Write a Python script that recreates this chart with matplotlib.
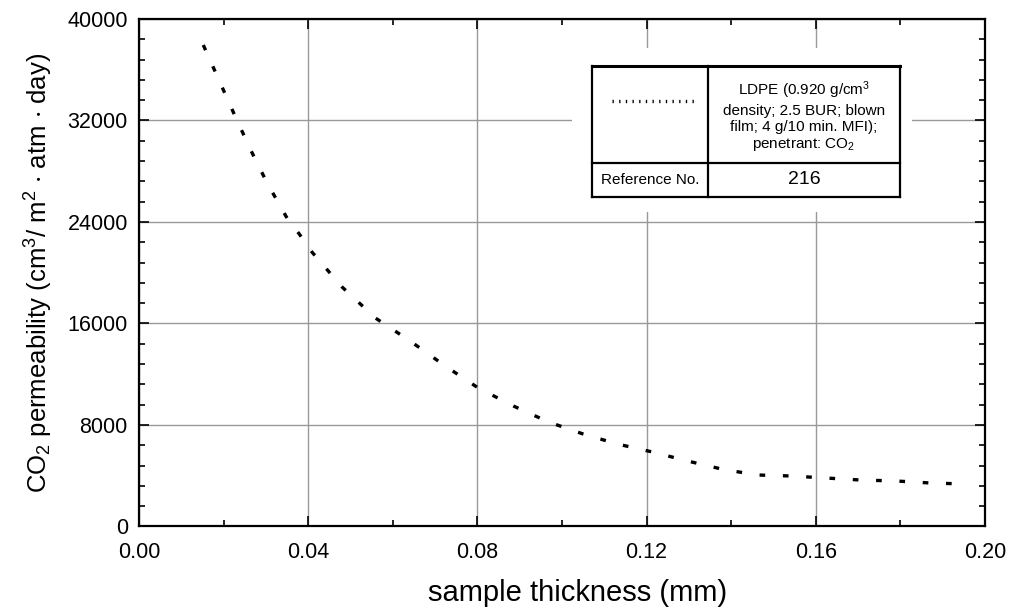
import matplotlib
matplotlib.use("Agg")
import matplotlib.pyplot as plt
from matplotlib.patches import Rectangle
from matplotlib.lines import Line2D
from matplotlib.ticker import MultipleLocator

thickness_mm = [0.0152, 0.0189, 0.0225, 0.0263, 0.0303, 0.0350, 0.0379, 0.0409,
                0.0480, 0.0559, 0.0641, 0.0724, 0.0802, 0.0885, 0.0968, 0.1050,
                0.1131, 0.1214, 0.1297, 0.1377, 0.1460, 0.1541, 0.1624, 0.1707,
                0.1787, 0.1870, 0.1950]
permeability = [37950, 35190, 32510, 29750, 27070, 24310, 23050, 21630,
                18880, 16430, 14620, 12650, 10920, 9500, 8240, 7290,
                6500, 5870, 5160, 4530, 4060, 3980, 3820, 3660,
                3590, 3430, 3350]
x_ticks = [0.00, 0.04, 0.08, 0.12, 0.16, 0.20]
y_ticks = [0, 8000, 16000, 24000, 32000, 40000]
legend_desc = "LDPE (0.920 g/cm$^3$\ndensity; 2.5 BUR; blown\nfilm; 4 g/10 min. MFI);\npenetrant: CO$_2$"
ref_label = "Reference No."
ref_number = "216"

plt.rcParams['font.family'] = ['Liberation Sans', 'DejaVu Sans']
plt.rcParams['mathtext.fontset'] = 'custom'
plt.rcParams['mathtext.rm'] = 'Liberation Sans'
plt.rcParams['mathtext.it'] = 'Liberation Sans'
plt.rcParams['mathtext.default'] = 'regular'

fig = plt.figure(figsize=(10.10, 6.09), dpi=100)
ax = fig.add_axes([0.1376, 0.1355, 0.8376, 0.8333])

ax.plot(thickness_mm, permeability, color='black', lw=2.4,
        linestyle=(0, (1.7, 5.3)), dash_capstyle='butt')

ax.set_xlim(0, 0.20)
ax.set_ylim(0, 40000)
ax.set_xticks(x_ticks)
ax.set_xticklabels([f"{t:.2f}" for t in x_ticks])
ax.set_yticks(y_ticks)
ax.set_yticklabels([str(t) for t in y_ticks])
ax.xaxis.set_minor_locator(MultipleLocator(0.02))
ax.yaxis.set_minor_locator(MultipleLocator(1600))
ax.tick_params(which='both', direction='in', top=True, right=True, labelsize=15.5, width=1.2)
ax.tick_params(which='major', length=7)
ax.tick_params(axis='x', which='major', pad=11)
ax.tick_params(axis='y', which='major', pad=8)
ax.tick_params(which='minor', length=4)
ax.grid(True, which='major', color='#999999', lw=1.0)
ax.set_axisbelow(True)
for s in ax.spines.values():
    s.set_linewidth(1.6)

ax.set_xlabel("sample thickness (mm)", fontsize=21)
ax.set_ylabel("CO$_2$ permeability (cm$^3$/ m$^2$ $\\cdot$ atm $\\cdot$ day)", fontsize=18.5)
ax.xaxis.set_label_coords(0.518, -0.103)
ax.yaxis.set_label_coords(-0.099, 0.5)

# legend table
T = ax.transAxes
ax.add_patch(Rectangle((0.5118, 0.6197), 0.4019, 0.3232, transform=T,
                       facecolor='white', edgecolor='none', zorder=3))
L, M, R = 0.5355, 0.6726, 0.8995
top, sep, bot = 0.9074, 0.7163, 0.6493
lk = dict(transform=T, color='black', zorder=4, solid_capstyle='projecting')
ax.add_line(Line2D([L, R], [top, top], lw=2.2, **lk))
ax.add_line(Line2D([L, R], [sep, sep], lw=1.6, **lk))
ax.add_line(Line2D([L, R], [bot, bot], lw=1.6, **lk))
for xv in (L, M, R):
    ax.add_line(Line2D([xv, xv], [bot, top], lw=1.6, **lk))
ax.add_line(Line2D([0.5592, 0.6572], [0.8385, 0.8385], transform=T, color='black',
                   lw=2.4, linestyle=(0, (0.4, 1.6)), zorder=4))
ax.text((M + R) / 2, (top + sep) / 2 - 0.004, legend_desc, transform=T, ha='center', va='center',
        fontsize=11, linespacing=1.2, zorder=5)
ax.text((L + M) / 2, (sep + bot) / 2, ref_label, transform=T, ha='center', va='center',
        fontsize=11, zorder=5)
ax.text((M + R) / 2, (sep + bot) / 2, ref_number, transform=T, ha='center', va='center',
        fontsize=14, zorder=5)

fig.savefig("out.png", dpi=100)
